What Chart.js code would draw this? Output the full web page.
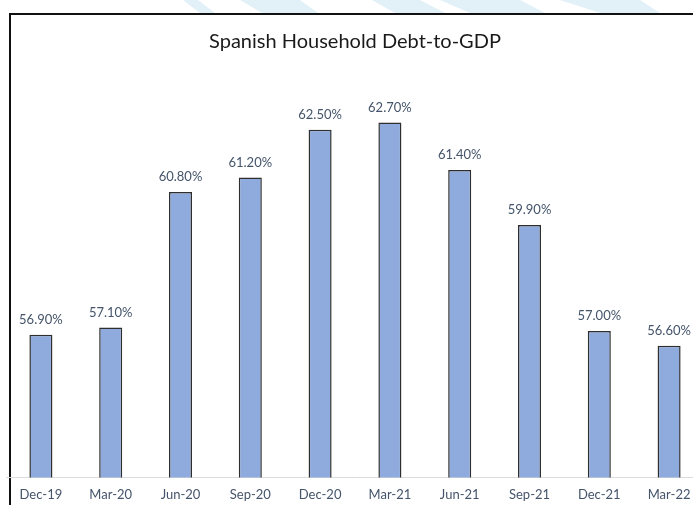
<!DOCTYPE html>
<html>
<head>
<meta charset="utf-8">
<script src="https://cdn.jsdelivr.net/npm/chart.js@4"></script>
<style>
  body { margin: 0; background: #fff; overflow: hidden; }
  #wrap { position: absolute; left: 0; top: 0; width: 720px; height: 508px; }
</style>
</head>
<body>
<div id="wrap"><canvas id="chart"></canvas></div>
<script>
const quarters = ['Dec-19', 'Mar-20', 'Jun-20', 'Sep-20', 'Dec-20', 'Mar-21', 'Jun-21', 'Sep-21', 'Dec-21', 'Mar-22']
const debtToGdp = [56.9, 57.1, 60.8, 61.2, 62.5, 62.7, 61.4, 59.9, 57.0, 56.6]

const labelColor = '#44546a'
const fontFamily = 'Lato, "Open Sans", sans-serif'

/* frame lines and the faint stripes above it, as in the screenshot */
const framePlugin = {
    id: 'frame',
    beforeDraw(chart) {
        const ctx = chart.ctx
        ctx.save()
        ctx.fillStyle = '#e2f0f7'
        const stripes = [[183, 198, 215, 200], [240, 300, 318, 262], [372, 420, 445, 395], [440, 520, 545, 470], [560, 640, 660, 600]]
        stripes.forEach(s => {
            ctx.beginPath()
            ctx.moveTo(s[0], 0)
            ctx.lineTo(s[1], 0)
            ctx.lineTo(s[2], 13)
            ctx.lineTo(s[3], 13)
            ctx.closePath()
            ctx.fill()
        })
        ctx.strokeStyle = '#111'
        ctx.lineWidth = 2
        ctx.beginPath()
        ctx.moveTo(10, 508)
        ctx.lineTo(10, 14)
        ctx.lineTo(720, 14)
        ctx.stroke()
        ctx.restore()
    }
}

/* value labels on top of every bar */
const valueLabels = {
    id: 'valueLabels',
    afterDatasetsDraw(chart) {
        const ctx = chart.ctx
        const meta = chart.getDatasetMeta(0)
        ctx.save()
        ctx.font = '13px ' + fontFamily
        ctx.fillStyle = labelColor
        ctx.textAlign = 'center'
        ctx.textBaseline = 'middle'
        meta.data.forEach((bar, i) => {
            ctx.fillText(debtToGdp[i].toFixed(2) + '%', bar.x, bar.y - 15)
        })
        ctx.restore()
    }
}

new Chart(document.getElementById('chart'), {
    type: 'bar',
    data: {
        labels: quarters,
        datasets: [{
            data: debtToGdp,
            backgroundColor: '#8faadc',
            borderColor: '#2e2e2e',
            borderWidth: 1.5,
            borderSkipped: 'bottom',
            barPercentage: 0.33,
            categoryPercentage: 1
        }]
    },
    options: {
        responsive: true,
        maintainAspectRatio: false,
        animation: false,
        layout: {
            padding: { left: 6, right: 16, top: 0, bottom: 3 }
        },
        plugins: {
            legend: { display: false },
            tooltip: { enabled: false },
            title: {
                display: true,
                text: 'Spanish Household Debt-to-GDP',
                color: '#1a1a1a',
                font: { family: fontFamily, size: 20, weight: 'normal', lineHeight: 1.2 },
                padding: { top: 30, bottom: 21 }
            }
        },
        scales: {
            x: {
                grid: { display: false },
                border: { display: true, color: '#dcdcdc', width: 1 },
                ticks: {
                    color: labelColor,
                    font: { family: fontFamily, size: 13 },
                    padding: 2,
                    maxRotation: 0
                }
            },
            y: {
                display: false,
                min: 53,
                max: 64
            }
        }
    },
    plugins: [framePlugin, valueLabels]
})
</script>
</body>
</html>
